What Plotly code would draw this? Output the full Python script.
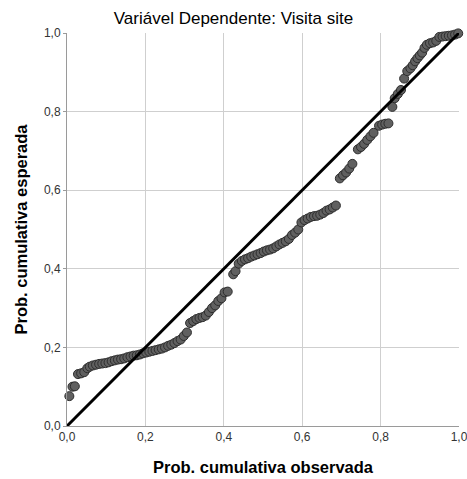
import plotly.graph_objects as go

# Observed vs. expected cumulative probabilities (P-P plot of residuals)
prob_observada = [
    0.006, 0.014, 0.020, 0.028, 0.036, 0.044, 0.052, 0.058, 0.066, 0.074,
    0.082, 0.090, 0.098, 0.106, 0.114, 0.122, 0.130, 0.138, 0.146, 0.154,
    0.162, 0.170, 0.178, 0.186, 0.194, 0.202, 0.210, 0.218, 0.226, 0.234,
    0.242, 0.250, 0.258, 0.266, 0.274, 0.282, 0.290, 0.298, 0.306, 0.314,
    0.322, 0.330, 0.338, 0.346, 0.354, 0.362, 0.370, 0.378, 0.386, 0.394,
    0.402, 0.410, 0.424, 0.430, 0.438, 0.446, 0.454, 0.462, 0.470, 0.478,
    0.486, 0.494, 0.502, 0.510, 0.518, 0.526, 0.534, 0.542, 0.550, 0.558,
    0.566, 0.574, 0.582, 0.590, 0.598, 0.606, 0.614, 0.622, 0.630, 0.638,
    0.646, 0.654, 0.662, 0.670, 0.678, 0.686, 0.696, 0.704, 0.712, 0.720,
    0.728, 0.742, 0.750, 0.758, 0.766, 0.774, 0.782, 0.796, 0.804, 0.812,
    0.820, 0.830, 0.836, 0.844, 0.852, 0.860, 0.868, 0.876, 0.882, 0.888,
    0.894, 0.900, 0.906, 0.912, 0.918, 0.926, 0.934, 0.942, 0.950, 0.958,
    0.966, 0.974, 0.982, 0.990, 0.998,
]
prob_esperada = [
    0.076, 0.100, 0.101, 0.132, 0.134, 0.137, 0.147, 0.151, 0.154, 0.156,
    0.158, 0.159, 0.160, 0.162, 0.165, 0.167, 0.169, 0.170, 0.172, 0.175,
    0.177, 0.179, 0.180, 0.182, 0.185, 0.187, 0.189, 0.191, 0.193, 0.195,
    0.197, 0.200, 0.204, 0.207, 0.211, 0.216, 0.220, 0.229, 0.238, 0.262,
    0.267, 0.272, 0.275, 0.277, 0.281, 0.290, 0.300, 0.307, 0.318, 0.325,
    0.340, 0.342, 0.386, 0.394, 0.413, 0.420, 0.424, 0.427, 0.431, 0.434,
    0.437, 0.440, 0.444, 0.447, 0.449, 0.452, 0.457, 0.462, 0.466, 0.470,
    0.476, 0.486, 0.492, 0.500, 0.518, 0.524, 0.528, 0.532, 0.534, 0.535,
    0.538, 0.542, 0.548, 0.551, 0.556, 0.561, 0.630, 0.638, 0.645, 0.655,
    0.667, 0.704, 0.710, 0.718, 0.728, 0.737, 0.746, 0.764, 0.767, 0.769,
    0.770, 0.812, 0.834, 0.845, 0.855, 0.884, 0.903, 0.910, 0.918, 0.928,
    0.936, 0.943, 0.950, 0.962, 0.970, 0.974, 0.976, 0.980, 0.990, 0.991,
    0.992, 0.993, 0.994, 0.996, 0.999,
]
diagonal = [0.0, 1.0]
tick_vals = [0.0, 0.2, 0.4, 0.6, 0.8, 1.0]

font_family = "Liberation Sans, Arial, sans-serif"

fig = go.Figure()
fig.add_trace(go.Scatter(
    x=prob_observada, y=prob_esperada, mode="markers",
    marker=dict(size=9, color="#606060", line=dict(color="#2e2e2e", width=1)),
    cliponaxis=False, showlegend=False,
))
fig.add_trace(go.Scatter(
    x=diagonal, y=diagonal, mode="lines",
    line=dict(color="black", width=3),
    cliponaxis=False, showlegend=False,
))

axis_common = dict(
    range=[0, 1], tickvals=tick_vals, tickformat=".1f",
    showgrid=True, gridcolor="#cfcfcf", gridwidth=1,
    zeroline=False, showline=True, linecolor="#9a9a9a", linewidth=1,
    tickfont=dict(family=font_family, size=12, color="#333333"),
    fixedrange=True, automargin=False, ticklabeloverflow="allow",
)

fig.update_layout(
    width=467, height=479,
    margin=dict(l=67, r=8, t=33, b=53),
    paper_bgcolor="white", plot_bgcolor="white",
    separators=",.",
    font=dict(family=font_family, color="black"),
    title=dict(
        text="Variável Dependente: Visita site",
        x=0.5, xanchor="center", y=0.962, yanchor="middle",
        font=dict(family=font_family, size=17, color="black"),
    ),
    xaxis=dict(
        **axis_common, ticks="", ticklen=0,
        title=dict(text="<b>Prob. cumulativa observada</b>", standoff=18,
                   font=dict(family=font_family, size=16.5, color="black")),
    ),
    yaxis=dict(
        **axis_common, ticks="outside", ticklen=3, tickcolor="#9a9a9a",
        title=dict(text="<b>Prob. cumulativa esperada</b>", standoff=12,
                   font=dict(family=font_family, size=16.5, color="black")),
    ),
)

fig.write_html("out.html")
